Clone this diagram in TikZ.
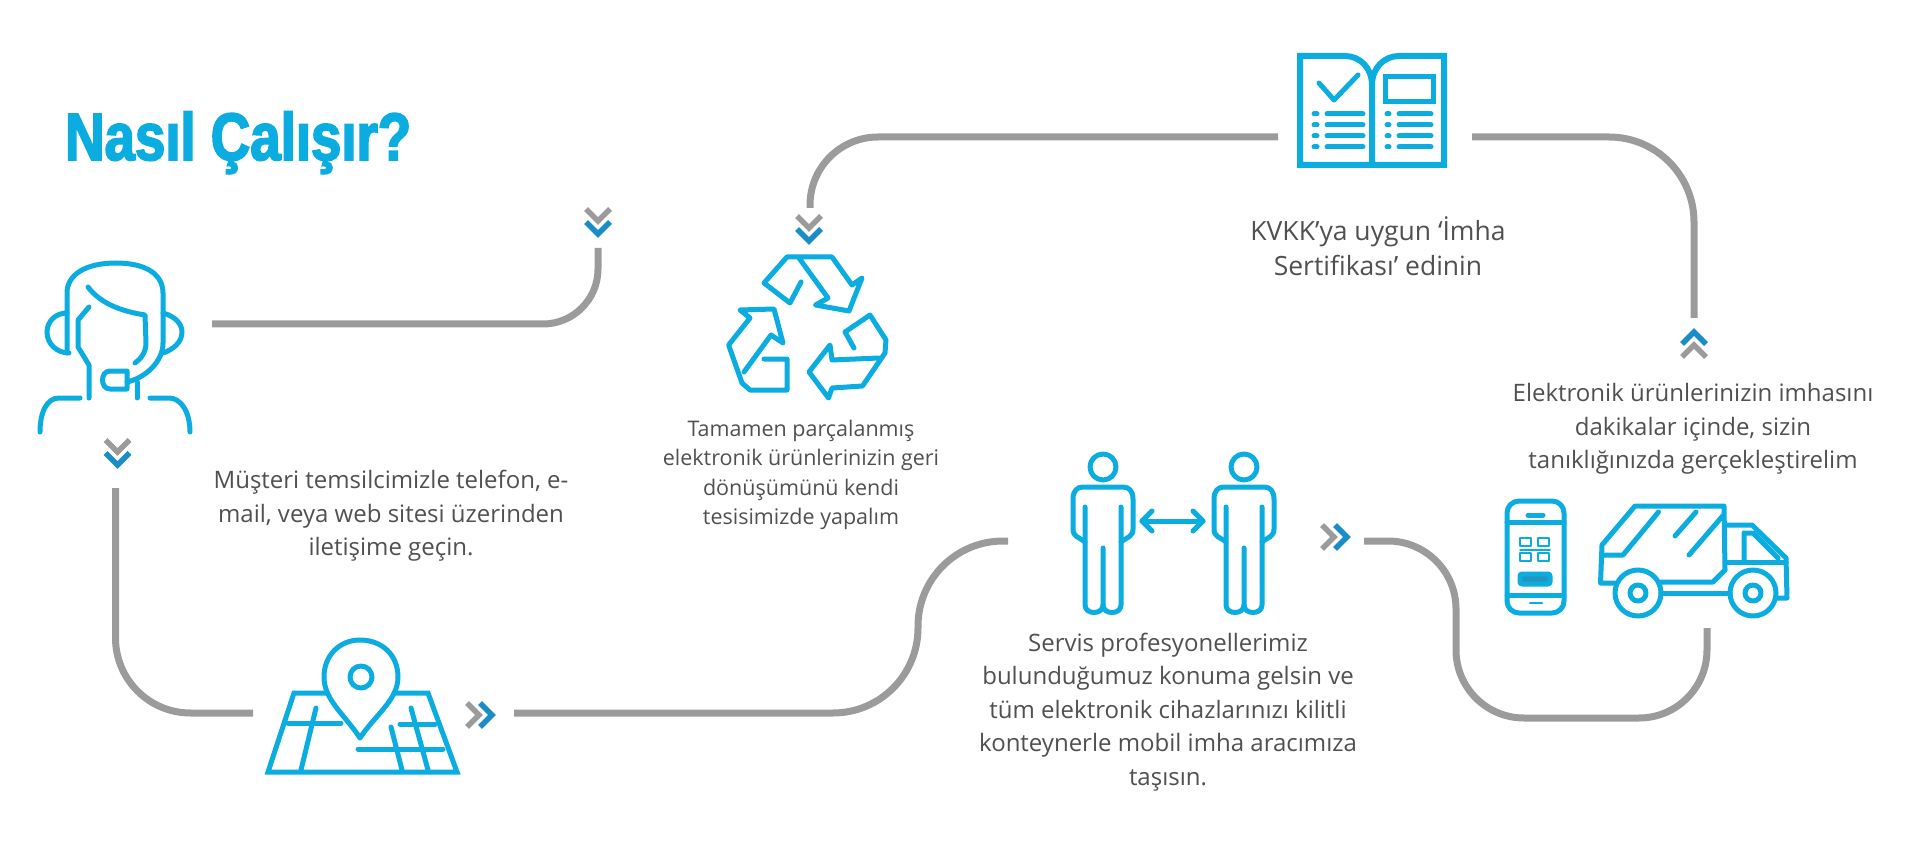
\documentclass[tikz,border=0pt]{standalone}
\usepackage{fontspec}
\setmainfont{Open Sans}
\newfontfamily\titlefont[FakeStretch=0.815,FakeBold=2.6]{Liberation Sans Bold}
\usetikzlibrary{positioning}
\definecolor{icon_blue}{HTML}{0BACE0}
\definecolor{chev_blue}{HTML}{1A8CC8}
\definecolor{conn_gray}{HTML}{9B9B9B}
\definecolor{text_gray}{HTML}{505050}

\begin{document}
\begin{tikzpicture}[
    x=1pt, y=-1pt,
    icon_line/.style={draw=icon_blue, line width=5pt, line cap=round, line join=round},
    conn/.style={draw=conn_gray, line width=7pt},
    chev_back/.style={draw=conn_gray, line width=5.5pt},
    chev_front/.style={draw=chev_blue, line width=5.5pt},
    big_label/.style={text=text_gray, align=center, font=\fontsize{24}{33.5}\selectfont},
    book_label/.style={text=text_gray, align=center, font=\fontsize{26.5}{35}\selectfont},
    small_label/.style={text=text_gray, align=center, font=\fontsize{21.5}{29.5}\selectfont},
    title_text/.style={text=icon_blue, anchor=base west, inner sep=0pt, font=\titlefont\fontsize{67}{70}\selectfont},
    chevrons/.pic={
        \draw[chev_back] (-12,-6) -- (0,6) -- (12,-6);
        \draw[chev_front] (-12,7) -- (0,19) -- (12,7);
    },
    person/.pic={
        \draw[icon_line] (0,-20) circle (13);
        \draw[icon_line] (-18,20) -- (-18,118) .. controls (-18,128) and (0,128) .. (0,118) -- (0,61);
        \draw[icon_line] (0,118) .. controls (0,128) and (18,128) .. (18,118) -- (18,20);
        \draw[icon_line] (-18,55) .. controls (-24,50) and (-30,50) .. (-30,42) -- (-30,12)
            .. controls (-30,4) and (-26,0) .. (-20,0) -- (20,0)
            .. controls (26,0) and (30,4) .. (30,12) -- (30,42) .. controls (30,50) and (24,50) .. (18,55);
    }
]
    \useasboundingbox (0,0) rectangle (1920,850);

    % Title
    \node[title_text] (title) at (65,160) {Nasıl Çalışır?};

    % Labels
    \node[big_label] (lbl_agent) at (391,516) {Müşteri temsilcimizle telefon, e-\\mail, veya web sitesi üzerinden\\iletişime geçin.};
    \node[small_label] (lbl_recycle) at (801,475) {Tamamen parçalanmış\\elektronik ürünlerinizin geri\\dönüşümünü kendi\\tesisimizde yapalım};
    \node[book_label] (lbl_book) at (1378,246) {KVKK’ya uygun ‘İmha\\Sertifikası’ edinin};
    \node[big_label] (lbl_truck) at (1693,429) {Elektronik ürünlerinizin imhasını\\dakikalar içinde, sizin\\tanıklığınızda gerçekleştirelim};
    \node[big_label] (lbl_people) at (1168,712) {Servis profesyonellerimiz\\bulunduğumuz konuma gelsin ve\\tüm elektronik cihazlarınızı kilitli\\konteynerle mobil imha aracımıza\\taşısın.};

    % Connector ends
    \coordinate (agent_out) at (212,324);
    \coordinate (chev_a_in) at (598,248);
    \coordinate (book_in) at (1278,137);
    \coordinate (recycle_in) at (810,208);
    \coordinate (book_out) at (1472,137);
    \coordinate (chev_up_in) at (1694,318);
    \coordinate (agent_down) at (115.5,488);
    \coordinate (map_in) at (253,713);
    \coordinate (map_out) at (514,713);
    \coordinate (people_in) at (1008,541);
    \coordinate (people_out) at (1364,541);
    \coordinate (truck_in) at (1707,628);

    % Connections
    \draw[conn, rounded corners=55] (agent_out) -| (chev_a_in);
    \draw[conn, rounded corners=68] (book_in) -| (recycle_in);
    \draw[conn, rounded corners=85] (book_out) -| (chev_up_in);
    \draw[conn, rounded corners=75] (agent_down) |- (map_in);
    \draw[conn, rounded corners=85] (map_out) -- (918,713) -- (918,541) -- (people_in);
    \draw[conn, rounded corners=68] (people_out) -- (1456,541) -- (1456,718) -- (1707,718) -- (truck_in);

    % Chevrons
    \pic at (598,215) {chevrons};
    \pic at (809,222) {chevrons};
    \pic at (117.5,446) {chevrons};
    \pic[rotate=180] at (1694,351) {chevrons};
    \pic[rotate=90] at (473,715) {chevrons};
    \pic[rotate=90] at (1328,537) {chevrons};

    % Agent icon
    \draw[icon_line] (67,353) -- (67,293) .. controls (67,275) and (85,263) .. (116,263)
        .. controls (147,263) and (163,275) .. (163,293) -- (163,343)
        .. controls (163,362) and (145,378) .. (127,382);
    \draw[icon_line] (67,313) .. controls (55,313) and (47,322) .. (47,332) .. controls (47,344) and (57,353) .. (69,353);
    \draw[icon_line] (163,313) .. controls (174,316) and (182,323) .. (182,332) .. controls (182,343) and (172,350) .. (163,353);
    \draw[icon_line] (88,287) .. controls (100,303) and (120,311) .. (145,315) -- (146,343) .. controls (146,352) and (141,359) .. (135,363);
    \draw[icon_line] (89,307) -- (78,320) -- (78,347) -- (89,365) -- (89,398);
    \draw[icon_line] (137,382) -- (137,398);
    \draw[icon_line] (127,371) -- (110,371) .. controls (100,371) and (100,389) .. (110,389) -- (127,389) -- cycle;
    \draw[icon_line] (80,398) -- (59,398) .. controls (47,398) and (40,412) .. (40,432);
    \draw[icon_line] (150,398) -- (169,398) .. controls (181,398) and (190,412) .. (190,432);

    % Recycle icon
    \draw[icon_line] (801,282) -- (790,303) -- (764,283) -- (787,257) -- (832,257) -- (852,285) -- (862,278)
        -- (849,311) -- (815.5,305) -- (828,298) -- (799,258);
    \draw[icon_line] (854,348) -- (845,332) -- (870,315) -- (886,340) -- (885,353) -- (862.5,386) -- (832,388)
        -- (828.5,398) -- (809,372) -- (830,345) -- (832,360) -- (879,358);
    \draw[icon_line] (764,359) -- (787,359) -- (787,390) -- (750,390) -- (742,383) -- (728.6,345) -- (750,318)
        -- (740,310) -- (774,309) -- (783,343) -- (771,335) -- (744,372);

    % Book icon
    \draw[icon_line, line width=6pt, line cap=butt, line join=miter] (1372,165) -- (1300,165) -- (1300,56) -- (1345,56)
        .. controls (1360,56) and (1372,68) .. (1372,85) -- (1372,165);
    \draw[icon_line, line width=6pt, line cap=butt, line join=miter] (1372,165) -- (1444,165) -- (1444,56) -- (1399,56)
        .. controls (1384,56) and (1372,68) .. (1372,85);
    \draw[icon_line] (1319,83) -- (1334,100) -- (1358,75);
    \draw[icon_line, line cap=butt, line join=miter] (1385,77) rectangle (1433,102);
    \foreach \rowy in {114,125,136,147} {
        \draw[icon_line] (1314,\rowy) -- (1317,\rowy);
        \draw[icon_line] (1327,\rowy) -- (1363,\rowy);
        \draw[icon_line] (1387,\rowy) -- (1389,\rowy);
        \draw[icon_line] (1399,\rowy) -- (1431,\rowy);
    }

    % Map icon
    \draw[icon_line] (360,738) .. controls (345,715) and (324,700) .. (324,677)
        .. controls (324,655) and (340,640) .. (360,640) .. controls (382,640) and (398,655) .. (398,677)
        .. controls (398,700) and (375,715) .. (360,738) -- cycle;
    \draw[icon_line] (361,677) circle (11);
    \draw[icon_line, line join=miter] (327,693) -- (294,693) -- (268,772) -- (457,772) -- (428,693) -- (396,693);
    \draw[icon_line] (288,723) -- (341,723);
    \draw[icon_line] (316,708) -- (301,770);
    \draw[icon_line] (400,724) -- (435,724);
    \draw[icon_line] (358,749) -- (443,749);
    \draw[icon_line] (411,708) -- (428,770);
    \draw[icon_line] (391,727) -- (402,770);

    % People icon
    \pic at (1103,487) {person};
    \pic at (1244,487) {person};
    \draw[icon_line] (1142,521) -- (1203,521);
    \draw[icon_line] (1152,511) -- (1142,521) -- (1152,531);
    \draw[icon_line] (1193,511) -- (1203,521) -- (1193,531);

    % Phone icon
    \draw[icon_line, rounded corners=12] (1507,501) rectangle (1564,613);
    \draw[icon_line] (1507,522) -- (1564,522);
    \draw[icon_line] (1507,595) -- (1564,595);
    \draw[icon_line] (1528,515) -- (1543,515);
    \draw[icon_line, line width=2.5pt] (1530,603) -- (1542,603);
    \draw[icon_line, fill=icon_blue!80!black!90, rounded corners=2] (1520,574) rectangle (1550,584);
    \foreach \qrx in {1520,1538} {
        \draw[icon_line, line width=1.8pt, line cap=butt] (\qrx,538) rectangle ++(11,8);
        \draw[icon_line, line width=1.8pt, line cap=butt] (\qrx,553) rectangle ++(11,8);
    }
    \draw[icon_line, line width=1.5pt] (1520,550) -- (1550,550);

    % Truck icon
    \draw[icon_line] (1615,583) -- (1600.5,583) -- (1602,545) -- (1635,506) -- (1724,506) -- (1725,570) -- (1713,582) -- (1661,582);
    \draw[icon_line] (1602,555) -- (1623,555) -- (1658.5,512);
    \draw[icon_line] (1675,536) -- (1696,512);
    \draw[icon_line] (1689,555) -- (1723.5,515);
    \draw[icon_line] (1638,593) circle (23);
    \draw[icon_line] (1638,593) circle (8);
    \draw[icon_line] (1753,593) circle (23);
    \draw[icon_line] (1753,593) circle (8);
    \draw[icon_line] (1661,593) -- (1730,593);
    \draw[icon_line] (1725,525) -- (1752,525) -- (1786,558) -- (1787,598) -- (1776,598);
    \draw[icon_line] (1725,562) -- (1786,562);
    \draw[icon_line] (1744,562) -- (1744,533) -- (1753,533) -- (1778,558);
\end{tikzpicture}
\end{document}
